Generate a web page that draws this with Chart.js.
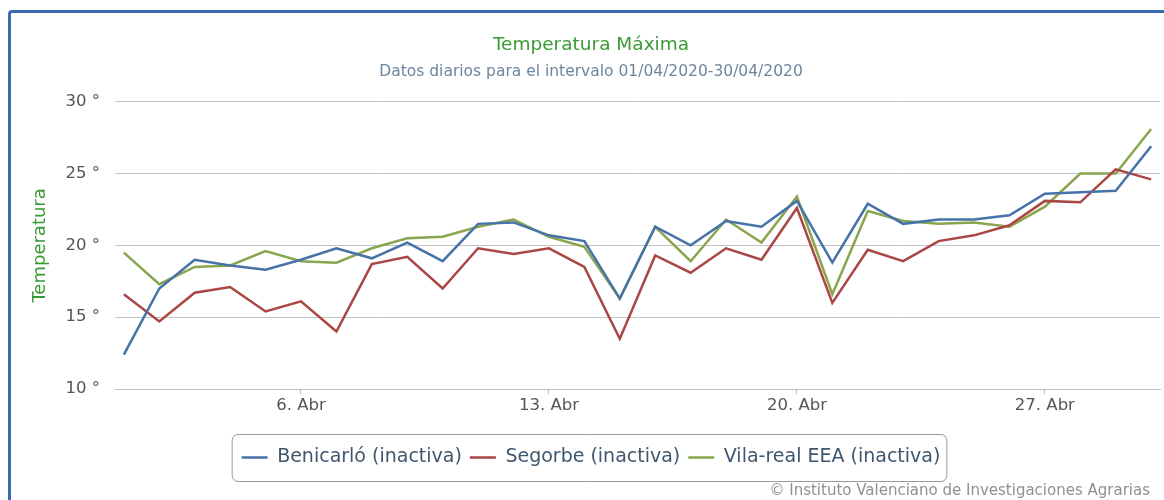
<!DOCTYPE html>
<html>
<head>
<meta charset="utf-8">
<script src="https://cdn.jsdelivr.net/npm/chart.js@4.4.1/dist/chart.umd.min.js"></script>
<style>
  html, body { margin: 0; padding: 0; background: #fff; overflow: hidden; }
  #wrap { position: relative; width: 1164px; height: 500px; }
  #frame { position: absolute; left: 8px; top: 10px; width: 1300px; height: 700px;
           border: 3px solid #3a6cb6; border-radius: 4px; box-sizing: border-box; }
  #salesChart { position: absolute; left: 0; top: 0; }
</style>
</head>
<body>
<div id="wrap">
  <div id="frame"></div>
  <canvas id="salesChart" width="1164" height="500"></canvas>
</div>
<script>
// dias de abril 2020
const days = [1, 2, 3, 4, 5, 6, 7, 8, 9, 10, 11, 12, 13, 14, 15,
              16, 17, 18, 19, 20, 21, 22, 23, 24, 25, 26, 27, 28, 29, 30];
const benicarlo = [12.4, 17.0, 19.0, 18.6, 18.3, 19.0, 19.8, 19.1, 20.2, 18.9,
                   21.5, 21.6, 20.7, 20.3, 16.3, 21.3, 20.0, 21.7, 21.3, 23.1,
                   18.8, 22.9, 21.5, 21.8, 21.8, 22.1, 23.6, 23.7, 23.8, 26.9];
const segorbe = [16.6, 14.7, 16.7, 17.1, 15.4, 16.1, 14.0, 18.7, 19.2, 17.0,
                 19.8, 19.4, 19.8, 18.5, 13.5, 19.3, 18.1, 19.8, 19.0, 22.6,
                 16.0, 19.7, 18.9, 20.3, 20.7, 21.4, 23.1, 23.0, 25.3, 24.6];
const vilareal = [19.5, 17.3, 18.5, 18.6, 19.6, 18.9, 18.8, 19.8, 20.5, 20.6,
                  21.3, 21.8, 20.6, 19.9, 16.3, 21.3, 18.9, 21.8, 20.2, 23.4,
                  16.6, 22.4, 21.7, 21.5, 21.6, 21.3, 22.7, 25.0, 25.0, 28.1];
const xTicks = [6, 13, 20, 27];
const yTicks = [10, 15, 20, 25, 30];

const font = "'DejaVu Sans', sans-serif";

function pts(values) {
    return days.map((d, i) => ({ x: d, y: values[i] }));
}

// marco redondeado alrededor de la leyenda + credito
const extras = {
    id: 'extras',
    afterDraw(chart) {
        const ctx = chart.ctx;
        const lg = chart.legend;
        if (lg && lg.legendHitBoxes.length) {
            const hb = lg.legendHitBoxes;
            const l = hb[0].left - 10;
            const r = hb[hb.length - 1].left + hb[hb.length - 1].width + 6;
            const t = hb[0].top - 14;
            const h = hb[0].height + 28;
            ctx.save();
            ctx.strokeStyle = '#999';
            ctx.lineWidth = 1;
            ctx.beginPath();
            ctx.roundRect(l + 0.5, t + 0.5, r - l, h, 6);
            ctx.stroke();
            ctx.restore();
        }
        ctx.save();
        ctx.font = '15px ' + font;
        ctx.fillStyle = '#909090';
        ctx.textAlign = 'right';
        ctx.textBaseline = 'middle';
        ctx.fillText('© Instituto Valenciano de Investigaciones Agrarias', 1150, 491);
        ctx.restore();
    }
};

const ctx = document.getElementById('salesChart').getContext('2d');
new Chart(ctx, {
    type: 'line',
    data: {
        datasets: [{
            label: 'Benicarló (inactiva)',
            data: pts(benicarlo),
            borderColor: '#4572a7',
            backgroundColor: '#4572a7',
            pointBorderWidth: 2.5
        }, {
            label: 'Segorbe (inactiva)',
            data: pts(segorbe),
            borderColor: '#aa4643',
            backgroundColor: '#aa4643',
            pointBorderWidth: 2.5
        }, {
            label: 'Vila-real EEA (inactiva)',
            data: pts(vilareal),
            borderColor: '#89a54e',
            backgroundColor: '#89a54e',
            pointBorderWidth: 2.5
        }]
    },
    options: {
        responsive: false,
        animation: false,
        elements: {
            line: { borderWidth: 2.5, tension: 0 },
            point: { radius: 0 }
        },
        layout: { padding: { top: 20, left: 22, right: 4, bottom: 23 } },
        plugins: {
            title: {
                display: true,
                text: 'Temperatura Máxima',
                color: '#3c9a34',
                font: { family: font, size: 18.5, weight: 'normal' },
                padding: { top: 14, bottom: 6 }
            },
            subtitle: {
                display: true,
                text: 'Datos diarios para el intervalo 01/04/2020-30/04/2020',
                color: '#6d869f',
                font: { family: font, size: 15.5 },
                padding: { top: 0, bottom: 21 }
            },
            legend: {
                position: 'bottom',
                labels: {
                    usePointStyle: true,
                    pointStyleWidth: 26,
                    pointStyle: 'line',
                    padding: 8,
                    color: '#3e576f',
                    font: { family: font, size: 19 }
                }
            },
            tooltip: { enabled: false }
        },
        scales: {
            x: {
                type: 'linear',
                min: 0.75,
                max: 30.25,
                afterBuildTicks: (s) => { s.ticks = xTicks.map(v => ({ value: v })); },
                afterFit: (s) => { s.height = 51; },
                ticks: {
                    color: '#555',
                    font: { family: font, size: 16.5 },
                    padding: 2,
                    maxRotation: 0,
                    callback: (v) => v + '. Abr'
                },
                grid: { drawOnChartArea: false, tickLength: 5, color: '#c0c0c0' },
                border: { color: '#c0c0c0' }
            },
            y: {
                min: 10,
                max: 30,
                afterBuildTicks: (s) => { s.ticks = yTicks.map(v => ({ value: v })); },
                afterFit: (s) => { s.width = 93; },
                title: {
                    display: true,
                    text: 'Temperatura',
                    color: '#3c9a34',
                    font: { family: font, size: 18 },
                    padding: { top: 8 }
                },
                ticks: {
                    color: '#555',
                    font: { family: font, size: 16.5 },
                    padding: 15,
                    callback: (v) => v + ' °'
                },
                grid: { color: '#c4c4c4', drawTicks: false },
                border: { display: false }
            }
        }
    },
    plugins: [extras]
});
</script>
</body>
</html>
